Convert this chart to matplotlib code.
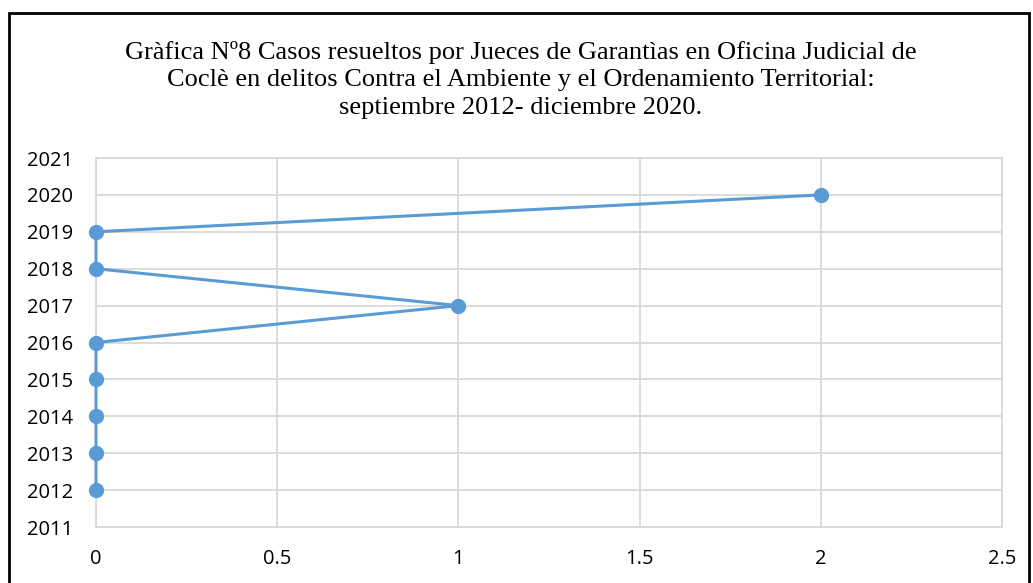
import matplotlib.pyplot as plt
from matplotlib.patches import Rectangle

# Data
years = [2012, 2013, 2014, 2015, 2016, 2017, 2018, 2019, 2020]
casos = [0, 0, 0, 0, 0, 1, 0, 0, 2]

x_ticks = [0, 0.5, 1, 1.5, 2, 2.5]
x_labels = ["0", "0.5", "1", "1.5", "2", "2.5"]
y_ticks = list(range(2011, 2022))

title = ("Gràfica Nº8 Casos resueltos por Jueces de Garantìas en Oficina Judicial de\n"
         "Coclè en delitos Contra el Ambiente y el Ordenamiento Territorial:\n"
         "septiembre 2012- diciembre 2020.")

W, H = 1033, 583
fig = plt.figure(figsize=(W / 100, H / 100), dpi=100)
ax = fig.add_axes([96 / W, 1 - 527 / H, (1002 - 96) / W, (527 - 158) / H])

grid_color = "#D9D9D9"
ax.plot(casos, years, color="#5B9BD5", linewidth=2.2, marker="o",
        markersize=10, clip_on=False, zorder=3)

ax.set_xlim(0, 2.5)
ax.set_ylim(2011, 2021)
ax.set_xticks(x_ticks)
ax.set_xticklabels(x_labels)
ax.set_yticks(y_ticks)
ax.grid(True, color=grid_color, linewidth=1.3)
ax.set_axisbelow(True)
for s in ax.spines.values():
    s.set_color(grid_color)
    s.set_linewidth(1.3)
ax.tick_params(length=0, labelsize=14.5, colors="black")
ax.tick_params(axis="x", pad=16)
ax.tick_params(axis="y", pad=16.5)
for lab in ax.get_xticklabels() + ax.get_yticklabels():
    lab.set_fontfamily("Open Sans")

fig.text(521 / W, 1 - 80 / H, title, ha="center", va="center",
         fontsize=19, family="Liberation Serif", linespacing=1.32)

# black frame around the chart
fig.patches.append(Rectangle((9 / W, -0.05), (1029 - 9) / W, 1.05 - 13 / H,
                             transform=fig.transFigure, fill=False,
                             edgecolor="black", linewidth=2, zorder=0))

fig.savefig("out.png", dpi=100)
